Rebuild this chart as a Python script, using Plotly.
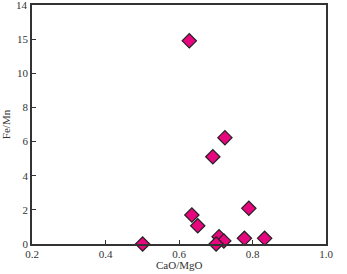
import plotly.graph_objects as go

# CaO/MgO vs Fe/Mn (y given in axis units as drawn; the axis labels are printed as in the source)
cao_mgo = [0.628, 0.725, 0.692, 0.635, 0.651, 0.790, 0.501, 0.709, 0.722, 0.701, 0.778, 0.833]
fe_mn = [11.9, 6.23, 5.11, 1.70, 1.07, 2.09, 0.0, 0.43, 0.18, 0.0, 0.33, 0.33]

x_ticks = [0.2, 0.4, 0.6, 0.8, 1.0]
x_ticktext = ["0.2", "0.4", "0.6", "0.8", "1.0"]
y_ticks = [0, 2, 4, 6, 8, 10, 12]
y_ticktext = ["0", "2", "4", "6", "8", "10", "15"]
y_top = 14  # top of the axis, labelled separately since plotly drops the edge label

serif = "Liberation Serif, Times New Roman, serif"
ink = "#333333"

fig = go.Figure()
fig.add_trace(go.Scatter(
    x=cao_mgo, y=fe_mn,
    mode="markers",
    cliponaxis=False,
    marker=dict(symbol="diamond", size=11, color="#E6077E",
                line=dict(color="#222222", width=1.2)),
    showlegend=False,
))

axis_common = dict(
    showline=True, linecolor=ink, linewidth=1.5, mirror=True,
    ticks="inside", ticklen=4, tickcolor=ink, tickwidth=1,
    showgrid=False, zeroline=False, automargin=False,
    tickfont=dict(family=serif, size=11, color=ink),
)

fig.update_layout(
    width=347, height=274,
    margin=dict(l=32, r=21, t=5, b=30),
    paper_bgcolor="white", plot_bgcolor="white",
    xaxis=dict(range=[0.2, 1.0], tickvals=x_ticks, ticktext=x_ticktext,
               ticklabelstandoff=-1, **axis_common),
    yaxis=dict(range=[0, y_top], tickvals=y_ticks, ticktext=y_ticktext,
               title=dict(text="Fe/Mn", font=dict(family=serif, size=11, color=ink)),
               **axis_common),
    annotations=[
        dict(text="CaO/MgO", xref="paper", yref="paper", x=0.5, y=0,
             yshift=-21, yanchor="middle", showarrow=False,
             font=dict(family=serif, size=11, color=ink)),
        dict(text=str(y_top), xref="paper", yref="y", x=0, y=y_top,
             xanchor="right", yanchor="middle", xshift=-2, showarrow=False,
             font=dict(family=serif, size=11, color=ink)),
    ],
)

# drop the default body margin so the figure sits at the page corner
fig.write_html("out.html", config={"displayModeBar": False},
               post_script="document.body.style.margin='0px';")
